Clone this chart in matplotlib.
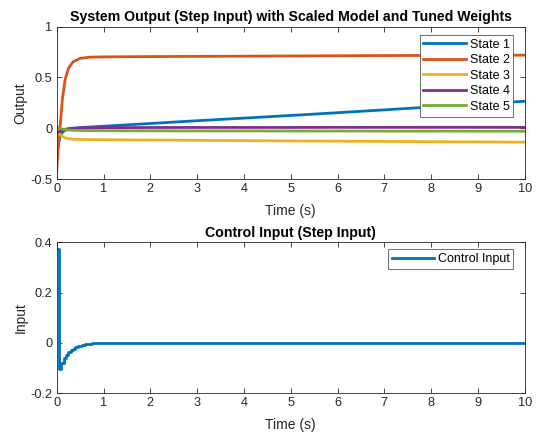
import numpy as np
import matplotlib
matplotlib.use("Agg")
import matplotlib.pyplot as plt

# output states
t = [0, 0.03, 0.07, 0.12, 0.18, 0.25, 0.35, 0.5, 0.7, 1, 2, 3, 4, 5, 6, 7, 8, 9, 10]
state1 = [-0.29, -0.17, -0.08, -0.04, -0.02, -0.008, 0.0, 0.006, 0.012, 0.02, 0.047, 0.074,
          0.10, 0.126, 0.153, 0.181, 0.21, 0.238, 0.266]
state2 = [-0.43, -0.20, 0.0, 0.28, 0.48, 0.59, 0.655, 0.688, 0.70, 0.703, 0.706, 0.708,
          0.710, 0.712, 0.714, 0.716, 0.717, 0.719, 0.72]
state3 = [0.0, -0.03, -0.06, -0.08, -0.095, -0.103, -0.108, -0.11, -0.112, -0.113, -0.116,
          -0.119, -0.122, -0.125, -0.127, -0.13, -0.132, -0.134, -0.137]
state4 = [-0.05, -0.04, -0.028, -0.018, -0.01, -0.004, 0.0, 0.003, 0.005, 0.006, 0.007,
          0.008, 0.008, 0.008, 0.009, 0.009, 0.009, 0.009, 0.009]
state5 = [0.015, 0.008, 0.0, -0.008, -0.013, -0.017, -0.02, -0.022, -0.023, -0.024, -0.025,
          -0.026, -0.026, -0.027, -0.027, -0.028, -0.028, -0.029, -0.029]
states = [state1, state2, state3, state4, state5]
state_labels = ["State 1", "State 2", "State 3", "State 4", "State 5"]

# control input (sampled, drawn as stairs)
u_t = [0, 0.05, 0.1, 0.15, 0.2, 0.25, 0.3, 0.35, 0.4, 0.45, 0.5, 0.55, 0.6, 0.65, 0.7,
       0.75, 0.8, 0.85, 0.9, 0.95, 1.0, 10]
u = [0.375, -0.102, -0.078, -0.061, -0.048, -0.037, -0.029, -0.022, -0.017, -0.013, -0.010,
     -0.007, -0.005, -0.0035, -0.0025, -0.0018, -0.0013, -0.001, -0.0007, -0.0005, 0.0, 0.0]

colors = ["#0072BD", "#D95319", "#EDB120", "#7E2F8E", "#77AC30"]
dark = "#262626"

plt.rcParams['font.family'] = ['Liberation Sans', 'DejaVu Sans']

fig = plt.figure(figsize=(5.38, 4.36), dpi=100)
ax1 = fig.add_axes([0.1054, 0.5894, 0.870, 0.3493])
ax2 = fig.add_axes([0.1054, 0.0979, 0.870, 0.3463])


def style(ax):
    ax.set_xlim(0, 10)
    ax.set_xticks(range(0, 11))
    ax.tick_params(direction="in", top=True, right=True, labelsize=9.2, colors=dark,
                   length=3.5, width=0.6, pad=3)
    for sp in ax.spines.values():
        sp.set_color(dark)
        sp.set_linewidth(0.6)
    ax.set_xlabel("Time (s)", fontsize=10, color=dark, labelpad=6)


for y, lab, c in zip(states, state_labels, colors):
    ax1.plot(t, y, color=c, lw=2, label=lab)
style(ax1)
ax1.set_ylim(-0.5, 1)
ax1.set_yticks([-0.5, 0, 0.5, 1])
ax1.set_yticklabels(["-0.5", "0", "0.5", "1"])
ax1.set_ylabel("Output", fontsize=10, color=dark, labelpad=2)
ax1.set_title("System Output (Step Input) with Scaled Model and Tuned Weights",
              fontsize=10.2, fontweight="bold", pad=4)
leg1 = ax1.legend(loc="upper right", fontsize=9, fancybox=False, framealpha=1,
                  edgecolor="#555555", handlelength=3.4, handletextpad=0.3,
                  labelspacing=0.28, borderpad=0.3, borderaxespad=0,
                  bbox_to_anchor=(0.9757, 0.9455))
leg1.get_frame().set_linewidth(0.6)

ax2.step(u_t, u, where="post", color=colors[0], lw=2, label="Control Input")
style(ax2)
ax2.set_ylim(-0.2, 0.4)
ax2.set_yticks([-0.2, 0, 0.2, 0.4])
ax2.set_yticklabels(["-0.2", "0", "0.2", "0.4"])
ax2.set_ylabel("Input", fontsize=10, color=dark, labelpad=2)
ax2.set_title("Control Input (Step Input)", fontsize=10.2, fontweight="bold", pad=4)
leg2 = ax2.legend(loc="upper right", fontsize=9, fancybox=False, framealpha=1,
                  edgecolor="#555555", handlelength=3.4, handletextpad=0.3,
                  borderpad=0.3, borderaxespad=0, bbox_to_anchor=(0.9757, 0.9536))
leg2.get_frame().set_linewidth(0.6)

fig.savefig("out.png", dpi=100)
